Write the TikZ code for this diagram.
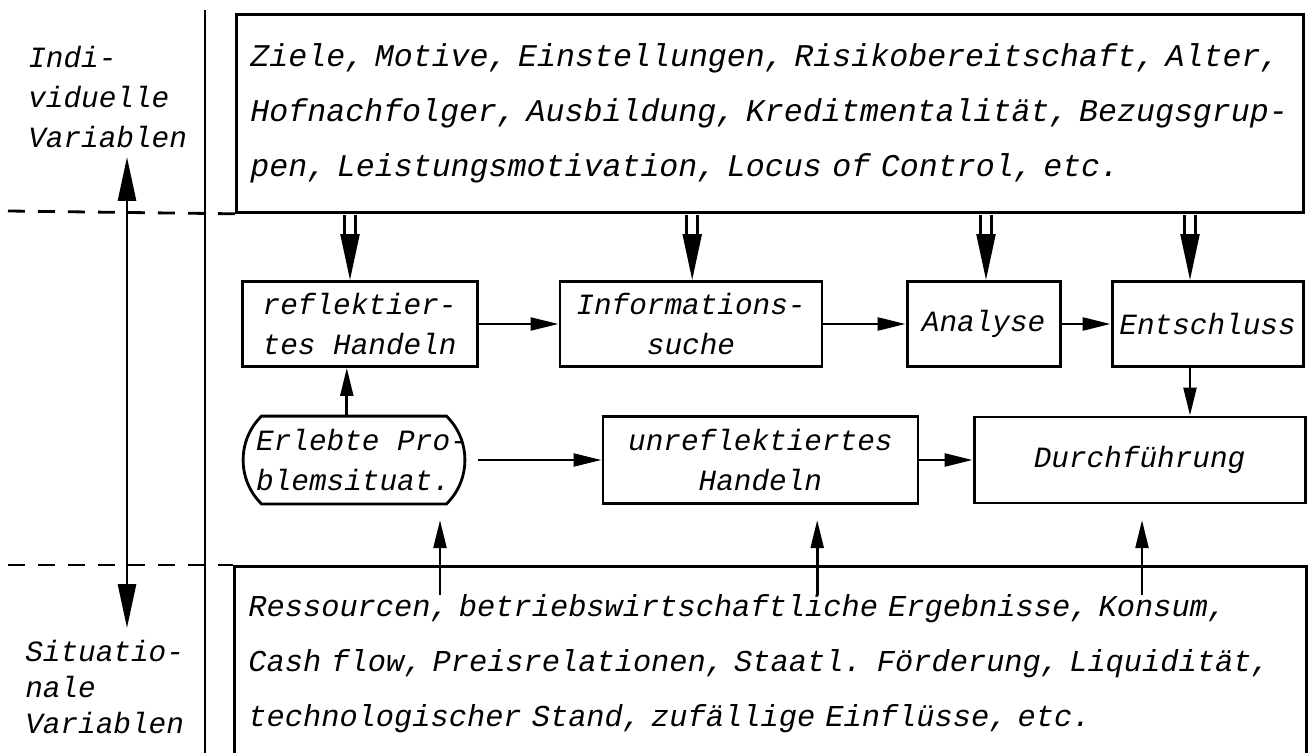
\documentclass[tikz,border=0pt]{standalone}
\usepackage{fontspec}
\setmainfont{Liberation Mono}
\usetikzlibrary{arrows.meta,calc}
\newcommand{\monoit}[2]{\itshape\fontsize{#1}{#2}\selectfont}

\begin{document}
\begin{tikzpicture}
    \tikzset{box/.style={draw, line width=2pt, inner sep=0pt, font=\monoit{20.9}{28.45}}}
    \tikzset{bigbox/.style={draw, line width=2pt, anchor=north west, align=left, inner xsep=0.35cm, inner ysep=0pt}}
    \tikzset{sidetext/.style={anchor=west, align=left, inner sep=0pt}}
    \tikzset{arr/.style={line width=2pt, -{Triangle[length=0.7cm,width=0.32cm]}}}
    \tikzset{bigarr/.style={line width=2pt, {Triangle[length=1.1cm,width=0.45cm]}-{Triangle[length=1.1cm,width=0.45cm]}}}
    \tikzset{shaft/.style={line width=2pt, double, double distance=6pt}}
    \tikzset{head/.style={line width=2pt, -{Triangle[length=1.15cm,width=0.47cm]}}}
    \tikzset{dashline/.style={line width=2pt, dash pattern=on 0.42cm off 0.33cm}}

    \useasboundingbox (0,0) rectangle (32.7,-18.825);

    \node[bigbox, minimum height=4.95cm, text width=25.975cm, font=\monoit{22.5}{39.1}] (ziele) at (5.875,-0.325) {\mbox{Ziele, Motive, Einstellungen, Risikobereitschaft, Alter,}\\\mbox{Hofnachfolger, Ausbildung, Kreditmentalität, Bezugsgrup-}\\\mbox{pen, Leistungsmotivation, Locus of Control, etc.}};
    \node[bigbox, minimum height=4.875cm, text width=26.1cm, font=\monoit{21.6}{39.1}] (res) at (5.825,-14.125) {\mbox{Ressourcen, betriebswirtschaftliche Ergebnisse, Konsum,}\\\mbox{Cash flow, Preisrelationen, Staatl. Förderung, Liquidität,}\\\mbox{technologischer Stand, zufällige Einflüsse, etc.}};

    \node[box, minimum width=5.875cm, minimum height=2.125cm, align=left] (refl) at (8.99,-8.1) {reflektier-\\tes Handeln};
    \node[box, minimum width=6.55cm, minimum height=2.125cm, align=center] (info) at (17.275,-8.1) {Informations-\\suche};
    \node[box, minimum width=3.825cm, minimum height=2.125cm] (analyse) at (24.59,-8.1) {Analyse};
    \node[box, minimum width=4.775cm, minimum height=2.125cm] (entschl) at (30.19,-8.1) {Entschluss};
    \node[box, draw=none, inner xsep=-0.6cm, minimum width=4.55cm, minimum height=2.125cm, align=left] (erlebte) at (8.85,-11.5) {\hspace*{0.4cm}Erlebte Pro-\\\hspace*{0.4cm}blemsituat.};
    \draw[line width=2pt] (erlebte.north west) to[bend right=46] (erlebte.south west) -- (erlebte.south east) to[bend right=46] (erlebte.north east) -- cycle;
    \node[box, minimum width=7.875cm, minimum height=2.175cm, align=center] (unrefl) at (19.01,-11.5) {unreflektiertes\\Handeln};
    \node[box, minimum width=8.275cm, minimum height=2.15cm] (durch) at (28.49,-11.5) {Durchführung};

    % left column
    \draw[line width=2pt] (5.125,-0.25)--(5.125,-19);
    \draw[dashline] (0.2,-5.275)--(ziele.south west);
    \draw[dashline] (0.2,-14.125)--(res.north west);
    \node[sidetext, font=\monoit{20.9}{28.45}] (indiv) at (0.7,-2.425) {Indi-\\viduelle\\Variablen};
    \node[sidetext, font=\monoit{20.9}{25.6}] (situ) at (0.625,-17.175) {Situatio-\\nale\\Variablen};
    \coordinate (ax-top) at (3.175,-3.925);
    \coordinate (ax-bot) at (3.175,-15.7);
    \draw[bigarr] (ax-top)--(ax-bot);

    % flow of the decision
    \foreach \i/\j in {refl/info,info/analyse,analyse/entschl,unrefl/durch}{
        \draw[arr] (\i)--(\j);
    }
    \draw[arr, shorten <=0.8cm] (erlebte)--(unrefl);
    \draw[arr] ([xshift=-0.18cm]erlebte.north)--([xshift=-0.18cm]refl.south -| erlebte.north);

    % individual variables
    \foreach \n/\dx in {refl/-0.24,info/0.03,analyse/0.06,entschl/-0.44}{
        \coordinate (tip-\n) at ([xshift=\dx cm]\n.north);
        \draw[shaft, shorten <=1pt] (ziele.south -| tip-\n)--([yshift=1.1cm]tip-\n);
        \draw[head] ([yshift=1.15cm]tip-\n)--(tip-\n);
    }
    \draw[arr] (entschl.south -| tip-entschl)--(durch.north -| tip-entschl);

    % situational variables
    \foreach \x/\n in {11.0/a,20.43/b,28.55/c}{
        \coordinate (in-\n) at (\x,-13.0);
        \draw[arr] ($(in-\n |- res.north)+(0,-0.75)$)--(in-\n);
    }
\end{tikzpicture}
\end{document}
